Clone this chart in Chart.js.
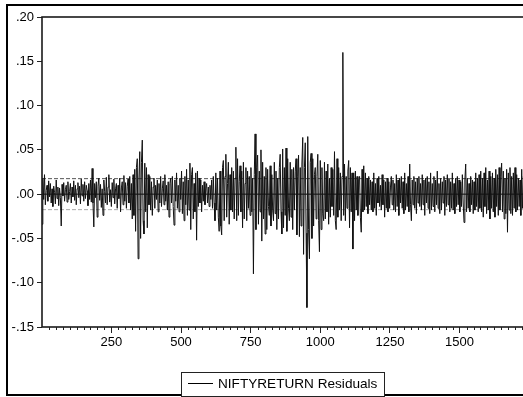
<!DOCTYPE html>
<html>
<head>
<meta charset="utf-8">
<script src="https://cdn.jsdelivr.net/npm/chart.js@4"></script>
<style>
html,body{margin:0;padding:0;background:#fff;overflow:hidden;width:523px;height:397px;}
canvas{display:block;}
</style>
</head>
<body>
<canvas id="c" width="560" height="397"></canvas>
<script>
// ---- data ----
const SERIES_NAME = "NIFTYRETURN Residuals";
const FIRST_OBS = 1;      // observation number of the first listed value
const OBS_STEP = 3;       // listed values are every 3rd observation
const X_MIN = 1;
const X_MAX = 1760;
const SE_BAND = 0.0175;   // dashed +/- 1 S.E. lines
const xTickLabels = [250, 500, 750, 1000, 1250, 1500];
const yTicks = [-0.15, -0.10, -0.05, 0.00, 0.05, 0.10, 0.15, 0.20];
const residuals = [
 -0.034, 0.018,-0.006, 0.022,-0.012, 0.004, 0.010,-0.008, 0.015,-0.003,
  0.012,-0.010, 0.006,-0.014, 0.009, 0.002,-0.011, 0.016,-0.005, 0.008,
 -0.013, 0.007,-0.004,-0.036, 0.011,-0.002, 0.013,-0.008, 0.005, 0.010,
 -0.009, 0.014,-0.006, 0.003, 0.012,-0.010, 0.008,-0.003, 0.015,-0.007,
  0.010,-0.012, 0.006, 0.013,-0.004, 0.009,-0.011, 0.017,-0.002, 0.011,
 -0.008, 0.014,-0.005, 0.010, 0.004,-0.013, 0.012,-0.006, 0.016,-0.009,
  0.029,-0.010,-0.037, 0.012,-0.004, 0.014,-0.026, 0.009, 0.018,-0.007,
  0.011,-0.015, 0.006,-0.024, 0.016, 0.003,-0.010, 0.019,-0.012, 0.008,
  0.022,-0.009, 0.005,-0.014, 0.013,-0.004, 0.017,-0.011, 0.006, 0.012,
 -0.016, 0.010,-0.005, 0.018,-0.020, 0.007, 0.014,-0.012, 0.021,-0.008,
  0.013,-0.016, 0.009, 0.017,-0.010, 0.020,-0.018, 0.012,-0.028, 0.022,
 -0.024, 0.028,-0.042, 0.030, 0.040,-0.073, 0.018, 0.048,-0.050, 0.036,
  0.061,-0.030,-0.045, 0.035,-0.020, 0.030,-0.038, 0.022,-0.012, 0.020,
 -0.018, 0.014,-0.024, 0.008, 0.018,-0.016, 0.010,-0.006, 0.016,-0.020,
  0.012,-0.010, 0.020,-0.014, 0.006, 0.015,-0.012, 0.022,-0.008, 0.010,
 -0.018, 0.014,-0.026, 0.012, 0.018,-0.010, 0.020,-0.014,-0.035, 0.016,
 -0.008, 0.024,-0.016, 0.010,-0.020, 0.018,-0.006, 0.026,-0.022, 0.014,
 -0.030, 0.020,-0.012, 0.028,-0.024, 0.016,-0.018, 0.035,-0.040, 0.022,
  0.030,-0.028, 0.012,-0.020, 0.024,-0.052, 0.026,-0.014, 0.018,-0.010,
  0.016,-0.020, 0.010,-0.008, 0.014,-0.012, 0.006, 0.012,-0.010, 0.008,
 -0.014, 0.010,-0.006, 0.016,-0.016, 0.020,-0.010,-0.030, 0.024,-0.018,
  0.018,-0.026,-0.042, 0.026,-0.036,-0.046, 0.030, 0.038,-0.030, 0.020,
  0.045,-0.026, 0.012, 0.036,-0.034, 0.022,-0.018, 0.030,-0.020, 0.026,
 -0.028, 0.018, 0.053,-0.030, 0.040,-0.024, 0.014, 0.032,-0.020, 0.026,
 -0.038, 0.036,-0.028, 0.012, 0.030,-0.030, 0.026,-0.016, 0.020,-0.024,
  0.030,-0.020, 0.018,-0.090, 0.022, 0.068,-0.040, 0.030, 0.044,-0.034,
  0.026,-0.020, 0.050,-0.053, 0.036,-0.028, 0.020,-0.045, 0.030,-0.040,
  0.028,-0.014,-0.024, 0.032,-0.036, 0.022,-0.018,-0.030, 0.036,-0.022,
  0.026,-0.040, 0.018,-0.028, 0.030, 0.045,-0.020,-0.045, 0.051,-0.038,
  0.030,-0.024, 0.052,-0.042, 0.040,-0.016,-0.030, 0.036,-0.026, 0.028,
 -0.040, 0.030,-0.018, 0.026, 0.040,-0.046, 0.020, 0.044,-0.048, 0.030,
 -0.036, 0.034, 0.064,-0.068, 0.030, 0.058,-0.044,-0.128, 0.065,-0.040,
 -0.073, 0.036, 0.046,-0.050, 0.040,-0.036, 0.022, 0.030,-0.028, 0.020,
  0.045,-0.030,-0.065, 0.038,-0.040, 0.030,-0.022,-0.030, 0.036,-0.028,
  0.026,-0.020, 0.034,-0.034, 0.018,-0.026, 0.030,-0.014, 0.028,-0.024,
  0.048,-0.030,-0.040, 0.040,-0.026, 0.030,-0.018, 0.024,-0.030, 0.020,
  0.160,-0.024, 0.034,-0.030, 0.020,-0.016, 0.026, 0.038,-0.038, 0.030,
 -0.020, 0.024,-0.062, 0.024,-0.030, 0.026,-0.018, 0.020,-0.024, 0.016,
  0.020,-0.026,-0.043, 0.028,-0.020, 0.032,-0.018, 0.024,-0.014, 0.018,
 -0.022, 0.020,-0.012, 0.016,-0.018, 0.014,-0.020, 0.024,-0.016, 0.012,
 -0.024, 0.018,-0.010, 0.020,-0.014, 0.010,-0.018, 0.022,-0.012, 0.016,
 -0.026, 0.014,-0.016, 0.018,-0.020, 0.014,-0.016, 0.008, 0.020,-0.012,
  0.016,-0.018, 0.012,-0.020, 0.022,-0.014, 0.016,-0.024, 0.018,-0.010,
  0.020,-0.016, 0.014,-0.022, 0.024,-0.018, 0.012,-0.014, 0.020,-0.020,
  0.034,-0.012,-0.030, 0.016,-0.012, 0.020,-0.016, 0.014,-0.022, 0.018,
 -0.010, 0.020,-0.014, 0.012,-0.018, 0.022,-0.012, 0.016,-0.024, 0.018,
 -0.010, 0.020,-0.016, 0.014,-0.022, 0.024,-0.018, 0.012,-0.014, 0.020,
 -0.020, 0.016,-0.012, 0.026,-0.016, 0.012,-0.022, 0.018,-0.018, 0.014,
 -0.010, 0.020,-0.024, 0.016,-0.014, 0.022,-0.012, 0.018,-0.020, 0.014,
 -0.016, 0.024,-0.018, 0.012,-0.022, 0.018,-0.014, 0.020,-0.012, 0.016,
 -0.020, 0.014,-0.014, 0.022,-0.010,-0.032, 0.016, 0.034,-0.020, 0.018,
 -0.016, 0.012,-0.020, 0.020,-0.012, 0.016,-0.022, 0.014,-0.018, 0.024,
 -0.014, 0.018,-0.020, 0.022,-0.016, 0.026,-0.020, 0.018,-0.026, 0.024,
 -0.014, 0.030,-0.022, 0.016,-0.018, 0.026,-0.028, 0.020,-0.016, 0.024,
 -0.020, 0.018,-0.026, 0.028,-0.014, 0.022,-0.024, 0.030,-0.018, 0.020,
  0.035,-0.020, 0.026,-0.028, 0.018,-0.022, 0.028,-0.043, 0.024,-0.018,
  0.030,-0.022, 0.020,-0.024, 0.024,-0.016, 0.030,-0.020, 0.022,-0.018,
  0.018,-0.014, 0.016,-0.024, 0.028,-0.016, 0.020,-0.022, 0.030,-0.018,
  0.022,-0.020, 0.016,-0.014
];

// ---- build chart ----
const FONT = "'Liberation Sans', Arial, sans-serif";
const points = residuals.map((v, i) => ({ x: FIRST_OBS + i * OBS_STEP, y: v }));
const hline = y => [{ x: X_MIN, y: y }, { x: X_MAX, y: y }];

function fmtY(v) {
  if (Math.abs(v) < 1e-9) return ".00";
  return v.toFixed(2).replace("0.", ".");
}

const decor = {
  id: "decor",
  afterDraw(chart) {
    const ctx = chart.ctx, a = chart.chartArea, xs = chart.scales.x;
    ctx.save();
    // plot box
    ctx.strokeStyle = "#1a1a1a";
    ctx.lineWidth = 1.6;
    ctx.strokeRect(a.left, a.top, a.right - a.left + 20, a.bottom - a.top);
    // minor x ticks every 25 obs
    ctx.lineWidth = 1;
    ctx.strokeStyle = "#222";
    for (let v = 25; v <= X_MAX; v += 25) {
      if (v % 250 === 0) continue;
      const px = Math.round(xs.getPixelForValue(v)) + 0.5;
      ctx.beginPath();
      ctx.moveTo(px, a.bottom);
      ctx.lineTo(px, a.bottom + 3);
      ctx.stroke();
    }
    // major tick beyond the last label
    const p1750 = Math.round(xs.getPixelForValue(1750)) + 0.5;
    ctx.beginPath(); ctx.moveTo(p1750, a.bottom); ctx.lineTo(p1750, a.bottom + 6); ctx.stroke();
    // outer frame
    ctx.strokeStyle = "#000";
    ctx.lineWidth = 2;
    ctx.strokeRect(7, 5, 560, 390);
    // legend
    const lx = 181, ly = 372, lw = 203, lh = 24;
    ctx.fillStyle = "#fff";
    ctx.fillRect(lx, ly, lw, lh);
    ctx.lineWidth = 1;
    ctx.strokeStyle = "#222";
    ctx.strokeRect(lx + 0.5, ly + 0.5, lw, lh);
    ctx.beginPath();
    ctx.moveTo(188, 383.5);
    ctx.lineTo(213, 383.5);
    ctx.strokeStyle = "#000";
    ctx.stroke();
    ctx.fillStyle = "#000";
    ctx.font = "13.6px " + FONT;
    ctx.textBaseline = "middle";
    ctx.textAlign = "left";
    ctx.fillText(SERIES_NAME, 218, 384);
    ctx.restore();
  }
};

new Chart(document.getElementById("c"), {
  type: "line",
  data: {
    datasets: [
      { label: SERIES_NAME, data: points, borderColor: "#111", borderWidth: 1,
        pointRadius: 0, tension: 0, fill: false, order: 0 },
      { label: "zero", data: hline(0), borderColor: "#000", borderWidth: 1,
        pointRadius: 0, fill: false, order: 1 },
      { label: "upper", data: hline(SE_BAND), borderColor: "#555", borderWidth: 1,
        borderDash: [4, 2], pointRadius: 0, fill: false, order: 1 },
      { label: "lower", data: hline(-SE_BAND), borderColor: "#aaa", borderWidth: 1,
        borderDash: [4, 2], pointRadius: 0, fill: false, order: 1 }
    ]
  },
  options: {
    responsive: false,
    animation: false,
    devicePixelRatio: 1,
    layout: { padding: { left: 7, top: 17, right: 28, bottom: 0 } },
    plugins: { legend: { display: false }, tooltip: { enabled: false } },
    scales: {
      x: {
        type: "linear",
        min: X_MIN, max: X_MAX,
        afterBuildTicks: s => { s.ticks = xTickLabels.map(v => ({ value: v })); },
        afterFit: s => { s.height = 70; },
        border: { display: false },
        grid: { drawOnChartArea: false, drawTicks: true, tickLength: 6, color: "#222" },
        ticks: { color: "#000", font: { family: FONT, size: 13 }, padding: 2,
                 autoSkip: false, maxRotation: 0, callback: v => String(v) }
      },
      y: {
        type: "linear",
        min: -0.15, max: 0.20,
        afterBuildTicks: s => { s.ticks = yTicks.map(v => ({ value: v })); },
        afterFit: s => { s.width = 35; },
        border: { display: false },
        grid: { drawOnChartArea: false, drawTicks: true, tickLength: 5, color: "#222" },
        ticks: { color: "#000", font: { family: FONT, size: 13 }, padding: 3,
                 callback: v => fmtY(v) }
      }
    }
  },
  plugins: [decor]
});
</script>
</body>
</html>
